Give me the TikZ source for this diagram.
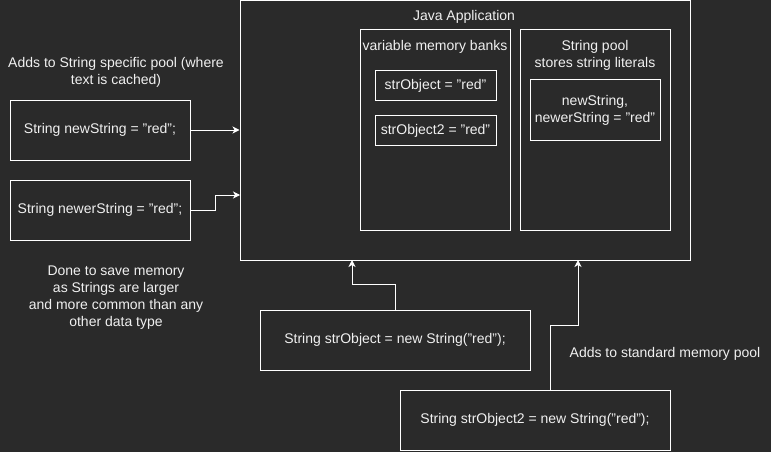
\documentclass[tikz,border=0pt]{standalone}
\usepackage{fontspec}
\setmainfont{Liberation Sans}
\usetikzlibrary{arrows.meta,calc}
\definecolor{bgc}{RGB}{42,42,42}
\definecolor{fg}{RGB}{240,240,240}
\begin{document}
\begin{tikzpicture}[x=1pt,y=-1pt,
  every node/.style={text=fg,font=\fontsize{14}{17}\selectfont,align=center,inner sep=0pt},
  box/.style={draw=white,line width=1pt,rectangle},
  lbl/.style={yshift=-1.5pt},
  arr/.style={draw=white,line width=1pt,-{Stealth[length=7pt,width=7pt,inset=2pt]}}]
\fill[bgc] (0,0) rectangle (771,452);
\useasboundingbox (0,0) rectangle (771,452);
% Java application container
\node[box,minimum width=450,minimum height=259] (app) at (465,130.5) {};
\node[lbl] (apptitle) at (464,15) {Java Application};
\node[box,minimum width=150,minimum height=200] (vars) at (435,130) {};
\node[lbl] (varstitle) at (435,45) {variable memory banks};
\node[box,minimum width=150,minimum height=200] (pool) at (595,130) {};
\node[lbl] (pooltitle) at (595,53.5) {String pool\\stores string literals};
\node[box,minimum width=121,minimum height=30] (v1) at (435.5,85.5) {strObject = "red"};
\node[box,minimum width=121,minimum height=30] (v2) at (435.5,130.5) {strObject2 = "red"};
\node[box,minimum width=130,minimum height=60] (p1) at (595,110) {newString,\\newerString = "red"};
% left side
\node[lbl] (lefttxt) at (116,70.5) {Adds to String specific pool (where\\text is cached)};
\node[box,minimum width=180,minimum height=60] (n1) at (100,130) {String newString = "red";};
\node[box,minimum width=180,minimum height=60] (n2) at (100,210) {String newerString = "red";};
\node[lbl] (donetxt) at (116,296) {Done to save memory\\as Strings are larger\\and more common than any\\other data type};
% bottom
\node[box,minimum width=270,minimum height=60] (s1) at (395,340) {String strObject = new String("red");};
\node[box,minimum width=270,minimum height=60] (s2) at (535,420) {String strObject2 = new String("red");};
\node[lbl] (stdtxt) at (665,352) {Adds to standard memory pool};
% connectors
\coordinate (a2) at (240,195);
\coordinate (a3) at (352,260);
\coordinate (a4) at (578,260);
\coordinate (s2a) at (550,390);
\draw[arr] (n1.east) -- (n1.east -| app.west);
\draw[arr] (n2.east) -- ++(25,0) |- (a2);
\draw[arr] (s1.north) -- ++(0,-25) -| (a3);
\draw[arr] (s2a) -- ++(0,-65) -| (a4);
\end{tikzpicture}
\end{document}
